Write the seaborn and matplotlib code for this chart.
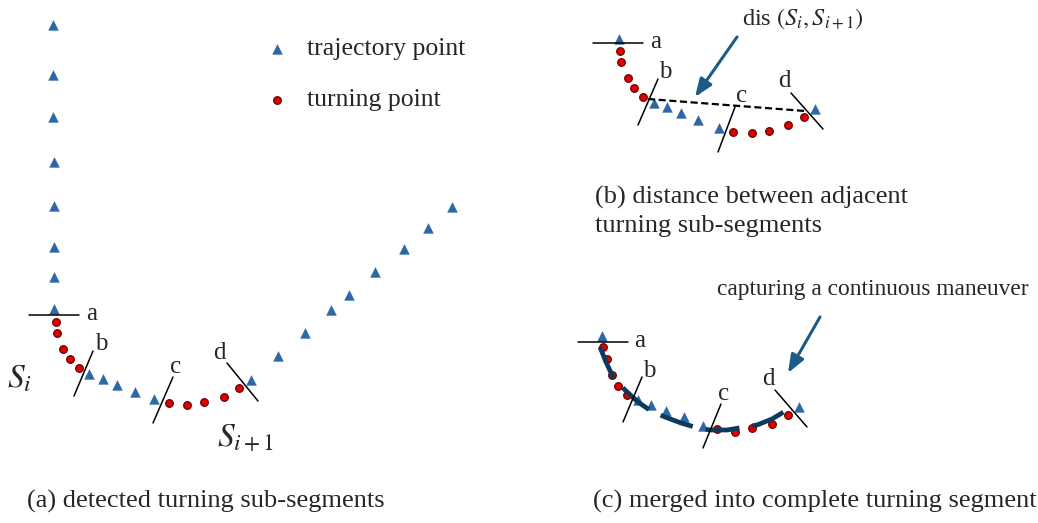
import matplotlib
matplotlib.use("Agg")
import matplotlib.pyplot as plt
import seaborn as sns

# ---------------- data (pixel-like diagram coordinates, y grows downward) ----------------
# panel (a)
traj_a_x = [53, 53, 53, 54, 54, 54, 54, 54, 89, 103, 117, 135, 154, 251, 278, 305, 331, 349, 375, 404, 428, 452]
traj_a_y = [25, 75, 117, 162, 206, 247, 277, 309, 374, 379, 385, 392, 399, 380, 356, 333, 310, 295, 272, 249, 228, 207]
turn_a_x = [56, 57, 63, 70, 79, 169, 187, 204, 224, 239]
turn_a_y = [322, 333, 349, 359, 368, 403, 405, 402, 397, 388]
# panel (b)
traj_b_x = [619, 654, 667, 681, 698, 719, 815]
traj_b_y = [39, 103, 107, 113, 120, 128, 109]
turn_b_x = [620, 621, 628, 634, 643, 733, 752, 769, 788, 804]
turn_b_y = [51, 62, 78, 88, 97, 132, 133, 131, 125, 117]
dis_x = [648, 805]
dis_y = [99, 111]
# panel (c)
traj_c_x = [602, 638, 651, 666, 684, 703, 799]
traj_c_y = [336, 400, 405, 411, 417, 426, 407]
turn_c_x = [603, 607, 612, 618, 627, 717, 735, 752, 772, 788]
turn_c_y = [347, 359, 375, 386, 395, 429, 432, 428, 424, 415]
merged_x = [600, 606, 613, 625, 638, 651, 665, 681, 698, 710, 727, 745, 757, 772, 787]
merged_y = [347, 362, 377, 390, 402, 411, 417, 423, 428, 430, 430, 427, 425, 419, 410]

# cut lines: (x0, y0, x1, y1)
cuts_a = [(29, 315, 79, 315), (74, 396, 93, 351), (153, 423, 173, 377), (227, 363, 258, 401)]
cuts_b = [(593, 43, 643, 43), (638, 125, 658, 79), (718, 152, 735, 107), (791, 93, 823, 129)]
cuts_c = [(578, 342, 628, 342), (623, 422, 642, 377), (703, 448, 721, 404), (775, 390, 807, 427)]
cut_names = ["a", "b", "c", "d"]
label_a = [(86, 320), (95, 350), (170, 373), (213, 359)]
label_b = [(650, 48), (659, 78), (736, 102), (778, 87)]
label_c = [(634, 347), (643, 377), (718, 400), (762, 385)]

legend_labels = ["trajectory point", "turning point"]
captions = ["(a) detected turning sub-segments",
            "(b) distance between adjacent\nturning sub-segments",
            "(c) merged into complete turning segment"]

# ---------------- style ----------------
sns.set_theme(style="white")
plt.rcParams["font.family"] = ["Liberation Serif", "DejaVu Serif"]
plt.rcParams["mathtext.fontset"] = "stix"

BLUE = "#2D67A6"
RED = "#E00000"
REDEDGE = "#6A0000"
ARROW = "#1C5A88"
NAVY = "#0C3A5C"

fig = plt.figure(figsize=(10.38, 5.23), dpi=100)
ax = fig.add_axes([0, 0, 1, 1])
ax.set_xlim(0, 1038)
ax.set_ylim(523, 0)
ax.axis("off")

def tri(xs, ys, **kw):
    sns.scatterplot(x=xs, y=ys, marker="^", s=50, color=BLUE, edgecolor=BLUE,
                    linewidth=0.3, ax=ax, zorder=4, **kw)

def dot(xs, ys, **kw):
    sns.scatterplot(x=xs, y=ys, marker="o", s=30, color=RED, edgecolor=REDEDGE,
                    linewidth=0.9, ax=ax, zorder=5, **kw)

# merged thick curve (c)
ln, = ax.plot(merged_x, merged_y, color=NAVY, lw=3.4, solid_capstyle="butt",
              dash_capstyle="butt", zorder=6)
ln.set_dashes((7.2, 2.8))

# dashed distance line (b)
dl, = ax.plot(dis_x, dis_y, color="black", lw=1.6, zorder=6)
dl.set_dashes((3.2, 1.6))

for xs, ys in [(traj_a_x, traj_a_y), (traj_b_x, traj_b_y), (traj_c_x, traj_c_y)]:
    tri(xs, ys)
for xs, ys in [(turn_a_x, turn_a_y), (turn_b_x, turn_b_y), (turn_c_x, turn_c_y)]:
    dot(xs, ys)

for cuts, labs in [(cuts_a, label_a), (cuts_b, label_b), (cuts_c, label_c)]:
    for (x0, y0, x1, y1), (lx, ly), nm in zip(cuts, labs, cut_names):
        ax.plot([x0, x1], [y0, y1], color="black", lw=1.1, zorder=7)
        ax.text(lx, ly, nm, fontsize=18, ha="left", va="baseline", zorder=8)

# legend (manual, panel a)
tri([277], [49])
dot([277], [100])
ax.text(307, 49, legend_labels[0], fontsize=18.5, ha="left", va="center")
ax.text(307, 100, legend_labels[1], fontsize=18.5, ha="left", va="center")

# segment names
ax.text(7, 387, r"$S_i$", fontsize=24, ha="left", va="baseline")
ax.text(217, 447, r"$S_{i+1}$", fontsize=24, ha="left", va="baseline")

# arrows and annotations
ax.annotate("", xy=(695, 97), xytext=(737, 37),
            arrowprops=dict(arrowstyle="-|>,head_length=0.9,head_width=0.35",
                            color=ARROW, lw=2.2, shrinkA=0, shrinkB=0))
ax.text(742, 25, r"dis $(S_i,S_{i+1})$", fontsize=17.5, ha="left", va="baseline")
ax.annotate("", xy=(788, 373), xytext=(820, 317),
            arrowprops=dict(arrowstyle="-|>,head_length=0.9,head_width=0.35",
                            color=ARROW, lw=2.2, shrinkA=0, shrinkB=0))
ax.text(717, 290, "capturing a continuous maneuver", fontsize=16.8, ha="left", va="center")

# captions
ax.text(27, 501, captions[0], fontsize=19, ha="left", va="center")
ax.text(595, 211, captions[1], fontsize=19, ha="left", va="center", linespacing=1.35)
ax.text(593, 501, captions[2], fontsize=19, ha="left", va="center")

fig.savefig("out.png", dpi=100)
